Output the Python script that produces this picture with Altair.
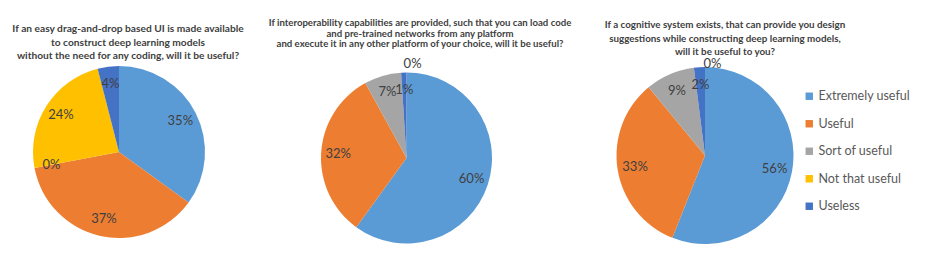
import altair as alt
import pandas as pd

categories = ["Extremely useful", "Useful", "Sort of useful", "Not that useful", "Useless"]
colors = ["#5B9BD5", "#ED7D31", "#A5A5A5", "#FFC000", "#4472C4"]

values_ui = [35, 37, 0, 24, 4]
values_interop = [60, 32, 7, 0, 1]
values_cognitive = [56, 33, 9, 0, 2]

titles = [
    ["If an easy drag-and-drop  based UI is made available",
     "to construct deep learning models",
     "without the need for any coding, will it be useful?"],
    ["If interoperability capabilities are provided, such that you can load code",
     "and pre-trained networks from any platform",
     "and execute it in any other platform of your choice, will it be useful?"],
    ["If a cognitive system exists, that can provide you design",
     "suggestions while constructing deep learning models,",
     "will it be useful to you?"],
]

FONT = "Lato"
TXT = "#404040"

# layout (chart coordinates)
pies = [(111, 144, 86), (398.5, 150, 85.5), (697, 147.5, 88.5)]
title_pos = [(120, 21, 13.5, 10.2), (412, 15, 10.5, 9.6), (717, 17, 13.5, 9.8)]
zero_outside = [False, True, True]
zero_radius_extra = [0, 8.5, 3.5]
zero_dx = [0, 12, 19]

series = [values_ui, values_interop, values_cognitive]

layers = []
for i, vals in enumerate(series):
    df = pd.DataFrame({"category": categories, "value": vals, "idx": list(range(len(categories)))})
    cx, cy, R = pies[i]
    arc = alt.Chart(df).mark_arc(radius=R).encode(
        theta=alt.Theta("value:Q", stack=True),
        order=alt.Order("idx:Q"),
        x=alt.value(cx), y=alt.value(cy),
        color=alt.Color("category:N",
                        scale=alt.Scale(domain=categories, range=colors),
                        sort=categories,
                        legend=alt.Legend(title=None, orient="none", legendX=795, legendY=82,
                                          symbolType="square", symbolSize=55,
                                          labelFont=FONT, labelFontSize=12.5, labelColor="#595959",
                                          rowPadding=14.5, labelOffset=3)),
    )
    layers.append(arc)
    inside_filter = "datum.value > 0" if zero_outside[i] else "true"
    lab = alt.Chart(df).transform_calculate(label="datum.value + '%'").mark_text(
        font=FONT, fontSize=13, color=TXT, radius=R * 0.8
    ).encode(
        theta=alt.Theta("value:Q", stack=True),
        order=alt.Order("idx:Q"),
        x=alt.value(cx), y=alt.value(cy),
        text=alt.Text("label:N"),
        opacity=alt.condition(inside_filter, alt.value(1), alt.value(0)),
    )
    layers.append(lab)
    if zero_outside[i]:
        lab0 = alt.Chart(df).transform_calculate(label="datum.value + '%'").mark_text(
            font=FONT, fontSize=13, color=TXT, radius=R + zero_radius_extra[i], dx=zero_dx[i]
        ).encode(
            theta=alt.Theta("value:Q", stack=True),
            order=alt.Order("idx:Q"),
            x=alt.value(cx), y=alt.value(cy),
            text=alt.Text("label:N"),
            opacity=alt.condition("datum.value == 0", alt.value(1), alt.value(0)),
        )
        layers.append(lab0)
    tx, ty, lh, fs = title_pos[i]
    for j, line in enumerate(titles[i]):
        layers.append(
            alt.Chart(pd.DataFrame({"t": [line]})).mark_text(
                font=FONT, fontSize=fs, fontWeight="bold", color=TXT, align="center", baseline="middle"
            ).encode(x=alt.value(tx), y=alt.value(ty + j * lh), text="t:N")
        )

chart = alt.layer(*layers).properties(
    width=911, height=241, autosize=alt.AutoSizeParams(type="none"), padding=0,
    background="white",
).configure_view(stroke=None)

chart.save("out.html", embed_options={"renderer": "svg", "actions": False})
